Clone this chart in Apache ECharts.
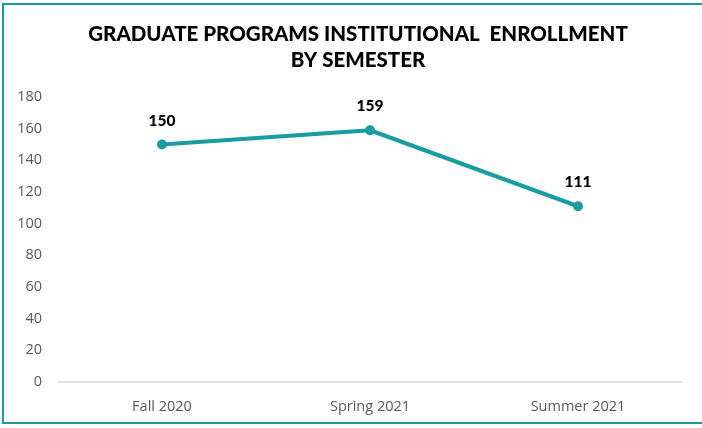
<!DOCTYPE html>
<html><head><meta charset="utf-8">
<script src="https://cdn.jsdelivr.net/npm/echarts@6/dist/echarts.min.js"></script>
<style>
html,body{margin:0;padding:0;background:#fff;}
#frame{position:absolute;left:2px;top:3px;width:720px;height:421px;border-top:2px solid #1a9ca3;border-left:2px solid #1a9ca3;border-bottom:2px solid #1a9ca3;box-sizing:border-box;}
#c{position:absolute;left:0;top:0;width:702px;height:428px;}
</style></head>
<body>
<div id="frame"></div>
<div id="c"></div>
<script>
const categories = ['Fall 2020', 'Spring 2021', 'Summer 2021'];
const enrollment = [150, 159, 111];
const titleLines = ['GRADUATE PROGRAMS INSTITUTIONAL  ENROLLMENT', 'BY SEMESTER'];

const chart = echarts.init(document.getElementById('c'), null, {renderer:'canvas'});
chart.setOption({
  animation: false,
  backgroundColor: 'transparent',
  title: {
    text: titleLines.join('\n'),
    left: 353, top: 16, textAlign: 'center',
    textStyle: {fontFamily: 'Lato', fontWeight: 900, fontSize: 20.5, color: '#000', lineHeight: 26}
  },
  grid: {left: 58, right: 20, top: 97, bottom: 46, containLabel: false},
  xAxis: {
    type: 'category', data: categories, boundaryGap: true,
    axisLine: {lineStyle: {color: '#d9d9d9', width: 1.5}},
    axisTick: {show: false},
    axisLabel: {color: '#595959', fontFamily: 'Open Sans', fontSize: 14.5, margin: 17}
  },
  yAxis: {
    type: 'value', min: 0, max: 180, interval: 20,
    axisLine: {show: false}, axisTick: {show: false}, splitLine: {show: false},
    axisLabel: {color: '#595959', fontFamily: 'Open Sans', fontSize: 14.5, margin: 16}
  },
  series: [{
    type: 'line', data: enrollment,
    symbol: 'circle', symbolSize: 10,
    lineStyle: {color: '#1a9ca3', width: 4},
    itemStyle: {color: '#1a9ca3'},
    label: {show: true, position: 'top', distance: 11, color: '#000', fontFamily: 'Lato', fontWeight: 900, fontSize: 15.5}
  }]
});
</script>
</body></html>
